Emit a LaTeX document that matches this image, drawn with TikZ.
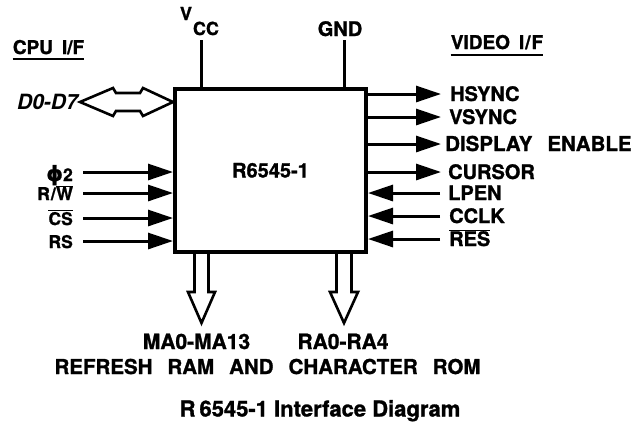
\documentclass[tikz,border=0pt]{standalone}
\usepackage{fontspec}
\setmainfont{TeX Gyre Heros}[BoldFeatures={FakeBold=1.2}]
\newfontfamily\djv{DejaVu Sans}[BoldFeatures={FakeBold=1}]
\usetikzlibrary{arrows.meta,calc}
\newcommand\ovl[1]{$\overline{\hbox{#1}}$}
\newcommand\fs[1]{\fontsize{#1}{#1}\selectfont\bfseries}
\begin{document}
\begin{tikzpicture}[x=1pt,y=-1pt,
  font=\fs{20},
  lab/.style={inner sep=0pt,text height=14pt,text depth=0pt},
  llab/.style={lab,anchor=east,font=\fs{17.5}},
  rlab/.style={lab,anchor=west},
  sig/.style={line width=3pt,-{Triangle[length=25pt,width=16pt]}},
  bus/.style={line width=2.6pt,line join=miter},
  rail/.style={line width=3pt},
  uline/.style={line width=1.6pt}]
\useasboundingbox (0,0) rectangle (636,429);
% chip
\node[draw,line width=4pt,minimum width=191pt,minimum height=163pt,inner sep=0pt,lab] (chip) at (270.5,170.5) {R6545-1};
% supply
\node[lab,font=\fs{18}] (vv) at (186,13) {V};
\node[lab,font=\fs{18}] (vcc) at (206,28) {CC};
\coordinate (vt) at (201,40);
\draw[rail] (vt) -- (vt |- chip.north);
\node[lab] (gnd) at (340,29) {GND};
\coordinate (gt) at (344,40);
\draw[rail] (gt) -- (gt |- chip.north);
% headings
\node[lab,font=\fs{19}] (cpu) at (48.5,47) {CPU\hspace{9pt}I/F};
\draw[uline] ([yshift=-5pt]cpu.south west) -- ([yshift=-5pt]cpu.south east);
\node[lab,font=\fs{19}] (vid) at (497,42) {VIDEO\hspace{9pt}I\kern1pt/\kern1ptF};
\draw[uline] ([yshift=-5.5pt]vid.south west) -- ([yshift=-5.5pt]vid.south east);
% data bus
\node[lab,anchor=east,font=\fs{21}\itshape] (dd) at (78,102) {D0-D7};
\draw[bus] (80,102) -- (113,88) -- (116,93) -- (140,93) -- (143,88) -- (173,102)
  -- (143,116) -- (140,111) -- (116,111) -- (113,116) -- cycle;
% CPU inputs
\node[llab] (phi) at (73,174) {{\djv\fontsize{21}{21}\selectfont ϕ}2};
\node[llab] (rw) at (73,193) {R\kern1pt/\kern0.5pt\ovl{W}};
\node[llab] (cs) at (73,218) {\ovl{CS}};
\node[llab] (rs) at (73,241) {RS};
\coordinate (phiy) at (0,172);
\draw[sig] ([xshift=10pt]phi.east |- phiy) -- (phiy -| chip.west);
\foreach \n in {rw,cs,rs}
  \draw[sig] ([xshift=10pt]\n.east) -- (\n.east -| chip.west);
% video side
\node[rlab] (hs) at (450,94) {HSYNC};
\node[rlab] (vs) at (449,117) {VSYNC};
\node[rlab,font=\fs{20.5}] (de) at (445,144) {DISPLAY\hspace{15pt}ENABLE};
\node[rlab] (cu) at (448,172) {CURSOR};
\node[rlab] (lp) at (448,193) {LPEN};
\node[rlab] (cc) at (449,216) {CCLK};
\node[rlab] (re) at (449,239) {\ovl{RES}};
\foreach \n in {hs,vs,cu}
  \draw[sig] (\n.west -| chip.east) -- (\n.west -| 441,0);
\draw[sig] (de.west -| chip.east) -- (de.west -| 441,0);
\foreach \n in {lp,cc,re}
  \draw[sig] (\n.west -| 440,0) -- (\n.west -| chip.east);
% address buses
\draw[bus] (194.5,252) -- (194.5,292) -- (188,292) -- (201.5,323) -- (215,292) -- (208.5,292) -- (208.5,252);
\draw[bus] (336.5,252) -- (336.5,292) -- (330,292) -- (344,323) -- (358,292) -- (351.5,292) -- (351.5,252);
% bottom texts
\node[lab,font=\fs{21}] (ma) at (196.5,342) {MA0-MA13};
\node[lab,font=\fs{21}] (ra) at (343,342) {RA0-RA4};
\node[lab,font=\fs{20.5}] (ref) at (267.5,367) {REFRESH\hspace{15pt}RAM\hspace{15pt}AND\hspace{15pt}CHARACTER\hspace{15pt}ROM};
\node[lab,font=\fs{22}] (title) at (320,409.5) {R\hspace{4pt}6545-1 Interface Diagram};
\end{tikzpicture}
\end{document}
